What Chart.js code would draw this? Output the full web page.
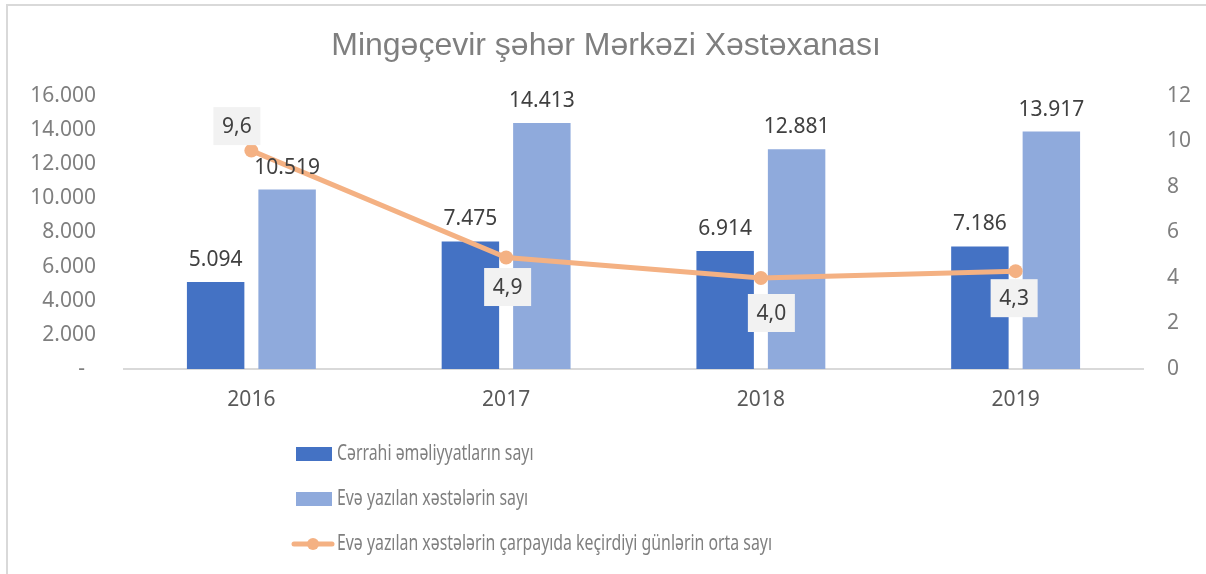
<!DOCTYPE html>
<html>
<head>
<meta charset="utf-8">
<script src="https://cdn.jsdelivr.net/npm/chart.js@4.4.1/dist/chart.umd.min.js"></script>
<style>
  html, body { margin: 0; padding: 0; background: #fff; }
  #wrap { position: relative; width: 1206px; height: 574px; }
</style>
</head>
<body>
<div id="wrap"><canvas id="chart" width="1206" height="574"></canvas></div>
<script>
const title = "Mingəçevir şəhər Mərkəzi Xəstəxanası"
const years = ["2016", "2017", "2018", "2019"]
const surgeries = [5094, 7475, 6914, 7186]
const admitted = [10519, 14413, 12881, 13917]
const bedDays = [9.6, 4.9, 4.0, 4.3]
const seriesNames = [
  "Cərrahi əməliyyatların sayı",
  "Evə yazılan xəstələrin sayı",
  "Evə yazılan xəstələrin çarpayıda keçirdiyi günlərin orta sayı"
]

const DARK = "#4472C4"
const LIGHT = "#8FAADC"
const ORANGE = "#F4B183"
const FONT = "'Noto Sans', sans-serif"

const fmtThousands = (v) => v === 0 ? "-  " : v.toLocaleString("de-DE")
const fmtDecimal = (v) => v.toFixed(1).replace(".", ",")

// frame, title and the vertical legend
const decorations = {
  id: "decorations",
  beforeDraw(chart) {
    const ctx = chart.ctx
    ctx.save()
    ctx.strokeStyle = "#D9D9D9"
    ctx.lineWidth = 2
    ctx.strokeRect(7, 5, 1400, 800)
    ctx.restore()
  },
  afterDraw(chart) {
    const ctx = chart.ctx
    ctx.save()
    ctx.fillStyle = "#7F7F7F"
    ctx.font = "32px 'Liberation Sans', Arial, sans-serif"
    ctx.textAlign = "center"
    ctx.textBaseline = "middle"
    ctx.fillText(title, 606, 46)

    const rows = [454, 499, 544]
    ctx.font = "22px 'Noto Sans', sans-serif"
    ctx.textAlign = "left"
    // legend text in the reference is set narrow; squeeze to its width
    const longest = ctx.measureText(seriesNames[2]).width
    const sx = 435 / longest
    chart.data.datasets.forEach((ds, i) => {
      const y = rows[i]
      if (ds.type === "line") {
        ctx.strokeStyle = ORANGE
        ctx.lineWidth = 5
        ctx.lineCap = "round"
        ctx.beginPath()
        ctx.moveTo(294, y)
        ctx.lineTo(332, y)
        ctx.stroke()
        ctx.fillStyle = ORANGE
        ctx.beginPath()
        ctx.arc(313, y, 6, 0, Math.PI * 2)
        ctx.fill()
      } else {
        ctx.fillStyle = ds.backgroundColor
        ctx.fillRect(296, y - 7, 36, 14)
      }
      ctx.save()
      ctx.translate(337, y)
      ctx.scale(sx, 1)
      ctx.fillStyle = "#7F7F7F"
      ctx.fillText(ds.label, 0, 0)
      ctx.restore()
    })
    ctx.restore()
  }
}

// value labels on bars and on the line points
const valueLabels = {
  id: "valueLabels",
  afterDatasetsDraw(chart, args, opts) {
    const ctx = chart.ctx
    ctx.save()
    ctx.font = "21px " + FONT
    ctx.textAlign = "center"
    chart.data.datasets.forEach((ds, i) => {
      const meta = chart.getDatasetMeta(i)
      meta.data.forEach((el, j) => {
        const v = ds.data[j]
        if (ds.type === "line") {
          const [dx, dy] = opts.lineOffsets[j]
          const cx = el.x + dx
          const cy = el.y + dy
          ctx.fillStyle = "#F2F2F2"
          ctx.fillRect(cx - 23.5, cy - 19, 47, 38)
          ctx.fillStyle = "#404040"
          ctx.textBaseline = "middle"
          ctx.fillText(fmtDecimal(v), cx, cy + 1)
        } else {
          ctx.fillStyle = "#404040"
          ctx.textBaseline = "alphabetic"
          ctx.fillText(fmtThousands(v), el.x, el.y - 16)
        }
      })
    })
    ctx.restore()
  }
}

new Chart(document.getElementById("chart"), {
  data: {
    labels: years,
    datasets: [
      {
        type: "bar",
        label: seriesNames[0],
        data: surgeries,
        yAxisID: "y",
        backgroundColor: DARK,
        categoryPercentage: 0.561,
        barPercentage: 0.804,
        order: 1
      },
      {
        type: "bar",
        label: seriesNames[1],
        data: admitted,
        yAxisID: "y",
        backgroundColor: LIGHT,
        categoryPercentage: 0.561,
        barPercentage: 0.804,
        order: 1
      },
      {
        type: "line",
        label: seriesNames[2],
        data: bedDays,
        yAxisID: "y1",
        borderColor: ORANGE,
        backgroundColor: ORANGE,
        borderWidth: 5,
        pointRadius: 7,
        pointHoverRadius: 7,
        pointBorderWidth: 0,
        tension: 0,
        order: 0
      }
    ]
  },
  options: {
    responsive: false,
    animation: false,
    layout: { padding: { top: 96, left: 0, right: 0, bottom: 155 } },
    plugins: {
      legend: { display: false },
      tooltip: { enabled: false },
      valueLabels: {
        lineOffsets: [[-14.5, -24.5], [1.5, 29.5], [10.5, 35], [-1.5, 27]]
      }
    },
    scales: {
      x: {
        offset: true,
        grid: { display: false, drawTicks: false },
        border: { color: "#D9D9D9", width: 2 },
        ticks: { color: "#595959", font: { family: FONT, size: 21 }, padding: 18 },
        afterFit: (s) => { s.height = 50 }
      },
      y: {
        position: "left",
        min: 0,
        max: 16000,
        grid: { display: false, drawTicks: false },
        border: { display: false },
        ticks: {
          stepSize: 2000,
          color: "#7F7F7F",
          font: { family: FONT, size: 21 },
          padding: 28,
          callback: (v) => fmtThousands(v)
        },
        afterFit: (s) => { s.width = 124 }
      },
      y1: {
        position: "right",
        min: 0,
        max: 12,
        grid: { display: false, drawTicks: false },
        border: { display: false },
        ticks: {
          stepSize: 2,
          color: "#7F7F7F",
          font: { family: FONT, size: 21 },
          padding: 24
        },
        afterFit: (s) => { s.width = 63 }
      }
    }
  },
  plugins: [decorations, valueLabels]
})
</script>
</body>
</html>
